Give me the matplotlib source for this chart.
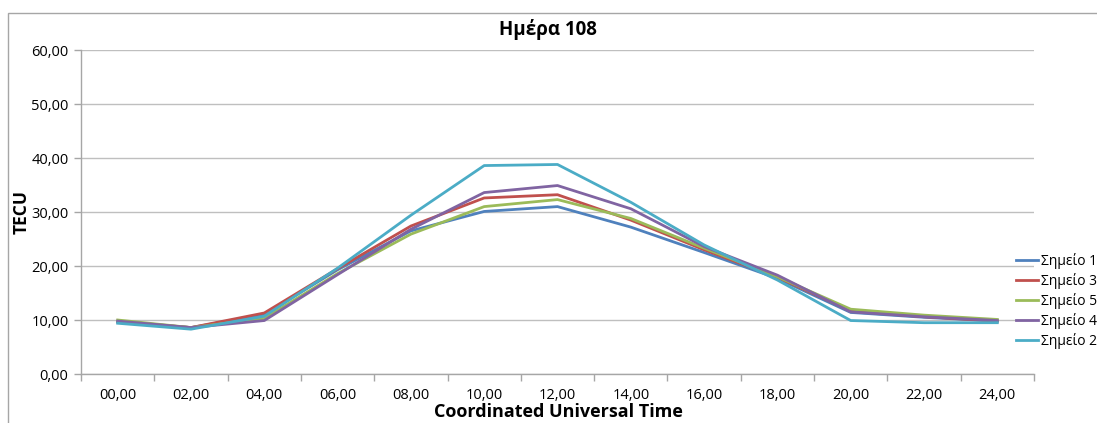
import numpy as np
import matplotlib.pyplot as plt
from matplotlib.patches import Rectangle
from matplotlib.lines import Line2D

plt.rcParams['font.family'] = ['Open Sans', 'DejaVu Sans']

hours = ["00,00", "02,00", "04,00", "06,00", "08,00", "10,00", "12,00",
         "14,00", "16,00", "18,00", "20,00", "22,00", "24,00"]

s1 = [9.6, 8.6, 11.0, 19.3, 26.5, 30.1, 31.0, 27.2, 22.5, 17.7, 11.4, 10.5, 9.8]
s3 = [9.7, 8.6, 11.3, 19.5, 27.4, 32.6, 33.2, 28.5, 23.0, 17.9, 11.7, 10.6, 9.8]
s5 = [10.0, 8.6, 10.3, 18.6, 25.9, 31.0, 32.3, 28.8, 23.3, 18.0, 12.0, 10.9, 10.1]
s4 = [9.8, 8.6, 9.9, 18.4, 26.8, 33.6, 34.9, 30.6, 23.6, 18.3, 11.5, 10.6, 9.9]
s2 = [9.4, 8.3, 10.7, 19.6, 29.4, 38.6, 38.8, 31.8, 23.9, 17.4, 9.9, 9.5, 9.5]

series = [("Σημείο 1", s1, "#4F81BD"),
          ("Σημείο 3", s3, "#C0504D"),
          ("Σημείο 5", s5, "#9BBB59"),
          ("Σημείο 4", s4, "#8064A2"),
          ("Σημείο 2", s2, "#4BACC6")]

fig = plt.figure(figsize=(10.97, 4.23), dpi=100)
ax = fig.add_axes([81 / 1097, 1 - 374 / 423, (1034 - 81) / 1097, (374 - 50) / 423])

# chart frame, running off the right and bottom edges
fig.patches.append(Rectangle((8 / 1097, -0.1), 1.2, 1 - 13 / 423 + 0.1,
                             transform=fig.transFigure, fill=False,
                             edgecolor="#A6A6A6", linewidth=1.0))

x = np.arange(len(hours))
for name, vals, col in series:
    ax.plot(x, vals, color=col, linewidth=2.0, label=name)

ax.set_xlim(-0.5, len(hours) - 0.5)
ax.set_ylim(0, 60)
ax.set_yticks(np.arange(0, 61, 10))
ax.set_yticklabels([f"{v},00" for v in range(0, 61, 10)], fontsize=10.5)
ax.set_xticks(x)
ax.set_xticklabels(hours, fontsize=10.5)
ax.set_xticks(np.arange(-0.5, len(hours)), minor=True)
ax.tick_params(axis="x", which="major", length=0, pad=10)
ax.tick_params(axis="x", which="minor", length=5, color="#A6A6A6", width=1)
ax.tick_params(axis="y", length=5, color="#A6A6A6", width=1, pad=4)

ax.grid(axis="y", color="#BFBFBF", linewidth=1.0)
ax.set_axisbelow(True)
for side in ["top", "right"]:
    ax.spines[side].set_visible(False)
for side in ["left", "bottom"]:
    ax.spines[side].set_color("#A6A6A6")
    ax.spines[side].set_linewidth(1.0)

fig.text(548 / 1097, 1 - 30 / 423, "Ημέρα 108", ha="center", va="center",
         fontsize=13.5, fontweight="bold")
fig.text(22 / 1097, 1 - 212 / 423, "TECU", ha="center", va="center",
         rotation=90, fontsize=12.5, fontweight="bold")
fig.text(558 / 1097, 2 / 423, "Coordinated Universal Time", ha="center",
         va="bottom", fontsize=13, fontweight="bold")

handles = [Line2D([], [], color=c, linewidth=2.0) for _, _, c in series]
fig.legend(handles, [n for n, _, _ in series], loc="center left",
           bbox_to_anchor=(1016 / 1097, 1 - 301 / 423), frameon=False,
           fontsize=10, handlelength=1.6, handletextpad=0.2,
           labelspacing=0.3, borderaxespad=0, borderpad=0)

fig.savefig("out.png", dpi=100)
